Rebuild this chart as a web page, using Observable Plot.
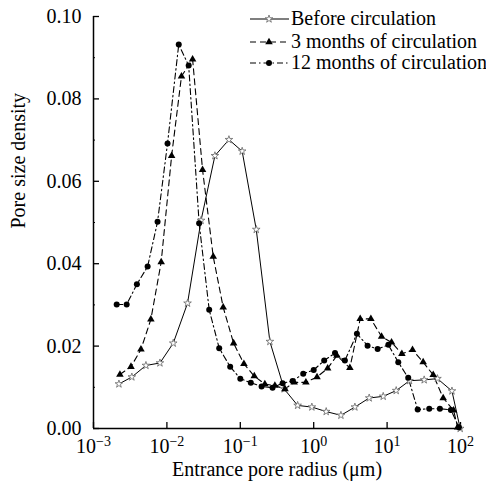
<!DOCTYPE html>
<html><head><meta charset="utf-8">
<script src="https://cdn.jsdelivr.net/npm/d3@7"></script>
<script src="https://cdn.jsdelivr.net/npm/@observablehq/plot@0.6"></script>
<style>body{margin:0;background:#fff} #chart svg{font-family:"Liberation Serif","Times New Roman",serif}</style>
</head><body><div id="chart"></div>
<script>
const seriesNames = ["Before circulation", "3 months of circulation", "12 months of circulation"];

// Before circulation: entrance pore radius (µm) and pore size density
const beforeR = [0.00222, 0.00333, 0.00518, 0.00804, 0.0122, 0.0191, 0.0292, 0.0451, 0.070, 0.106, 0.165, 0.253, 0.396, 0.604, 0.944, 1.48, 2.35, 3.64, 5.70, 8.85, 13.3, 20.2, 32.0, 48.5, 76.5, 99];
const beforeD = [0.0108, 0.0125, 0.0153, 0.0159, 0.0207, 0.0304, 0.0505, 0.0662, 0.0701, 0.0673, 0.0483, 0.0211, 0.0096, 0.0056, 0.0052, 0.0041, 0.0032, 0.0052, 0.0074, 0.0078, 0.0092, 0.0116, 0.0118, 0.0121, 0.0091, 0.0];

// 3 months of circulation
const m3R = [0.00229, 0.00324, 0.00443, 0.00605, 0.00836, 0.0116, 0.0158, 0.0224, 0.0306, 0.0428, 0.0585, 0.0811, 0.112, 0.155, 0.216, 0.296, 0.406, 0.542, 0.783, 1.11, 1.55, 2.07, 3.11, 4.30, 6.01, 8.41, 11.5, 15.9, 22.2, 31.0, 42.5, 58.1, 80.5, 91.4];
const m3D = [0.0131, 0.0150, 0.0192, 0.0265, 0.0404, 0.0662, 0.0855, 0.0896, 0.0628, 0.0417, 0.0294, 0.0207, 0.0157, 0.0127, 0.0108, 0.0104, 0.0096, 0.0112, 0.0112, 0.0125, 0.0146, 0.0177, 0.0147, 0.0266, 0.0266, 0.0223, 0.0209, 0.0181, 0.0191, 0.0161, 0.0130, 0.0074, 0.0044, 0.0003];

// 12 months of circulation
const m12R = [0.00207, 0.00283, 0.00390, 0.00546, 0.00746, 0.0102, 0.0145, 0.0198, 0.0275, 0.0377, 0.0516, 0.0728, 0.100, 0.139, 0.195, 0.275, 0.377, 0.516, 0.720, 1.0, 1.39, 1.95, 2.66, 3.88, 5.42, 7.43, 10.4, 14.2, 19.4, 26.1, 37.5, 52.4, 74.0, 95.1];
const m12D = [0.0301, 0.0301, 0.0350, 0.0393, 0.0502, 0.0692, 0.0932, 0.0881, 0.0498, 0.0288, 0.0195, 0.0150, 0.0121, 0.0111, 0.0102, 0.0099, 0.0110, 0.0115, 0.0133, 0.0142, 0.0165, 0.0183, 0.0165, 0.0230, 0.0201, 0.0193, 0.0203, 0.0161, 0.0123, 0.0046, 0.0048, 0.0048, 0.0045, 0.0003];

const xTicks = [1e-3, 1e-2, 1e-1, 1, 10, 100];
const xTickExp = ["−3", "−2", "−1", "0", "1", "2"];
const yTicks = [0, 0.02, 0.04, 0.06, 0.08, 0.10];
const yMinorTicks = [0.01, 0.03, 0.05, 0.07, 0.09];
const xLabel = "Entrance pore radius (μm)";
const yLabel = "Pore size density";

const toRows = (R, D) => R.map((r, i) => ({r, d: D[i]}));
const before = toRows(beforeR, beforeD);
const m3 = toRows(m3R, m3D);
const m12 = toRows(m12R, m12D);

const plot = Plot.plot({
  width: 486, height: 485,
  marginTop: 16, marginRight: 26, marginBottom: 57, marginLeft: 93,
  style: {fontFamily: "'Liberation Serif', 'Times New Roman', serif", fontSize: "20px", background: "white", color: "black"},
  x: {type: "log", domain: [1e-3, 1e2], label: null},
  y: {domain: [0, 0.10], label: null},
  marks: [
    Plot.axisX({ticks: xTicks, tickSize: 6, dy: -6, tickFormat: () => "", strokeWidth: 1.3, label: null}),
    Plot.axisX({ticks: xTicks, tickSize: 0, tickPadding: 10, tickFormat: (d) => "10^" + xTickExp[xTicks.indexOf(d)], fontSize: 20, label: null}),
    Plot.axisY({ticks: yTicks, tickSize: 6, dx: 6, tickFormat: () => "", strokeWidth: 1.3, label: null}),
    Plot.axisY({ticks: yMinorTicks, tickSize: 2, dx: 2, tickFormat: () => "", label: null}),
    Plot.axisY({ticks: yTicks, tickSize: 0, tickPadding: 12, tickFormat: d3.format(".2f"), fontSize: 20, label: null}),
    Plot.ruleY([0], {strokeWidth: 1.5}),
    Plot.ruleX([1e-3], {strokeWidth: 1.5}),
    Plot.line(before, {x: "r", y: "d", stroke: "black", strokeWidth: 1}),
    Plot.line(m3, {x: "r", y: "d", stroke: "black", strokeWidth: 1.1, strokeDasharray: "6,4"}),
    Plot.line(m12, {x: "r", y: "d", stroke: "black", strokeWidth: 1.1, strokeDasharray: "6,3,1.5,3"}),
    Plot.dot(before, {x: "r", y: "d", symbol: "star", r: 2.4, fill: "white", stroke: "#666", strokeWidth: 0.8}),
    Plot.dot(m3, {x: "r", y: "d", symbol: "triangle", r: 2.8, fill: "black", stroke: "none"}),
    Plot.dot(m12, {x: "r", y: "d", symbol: "circle", r: 3, fill: "black", stroke: "none"}),
    Plot.text([yLabel], {frameAnchor: "left", dx: -75, dy: 6, rotate: -90, fontSize: 20}),
    Plot.text([xLabel], {frameAnchor: "bottom", dy: 47, fontSize: 20})
  ]
});

// superscript exponents on the x tick labels
d3.select(plot).selectAll('g[aria-label="x-axis tick label"] text').each(function () {
  const parts = this.textContent.split("^");
  const s = d3.select(this);
  s.text(null);
  s.append("tspan").text(parts[0]);
  s.append("tspan").attr("dy", "-0.45em").attr("font-size", "14px").text(parts[1]);
});

// legend
const svg = d3.select(plot);
const leg = svg.append("g").attr("font-size", 20).attr("text-anchor", "start");
const legendItems = [
  {name: seriesNames[0], dash: null, sym: d3.symbolStar, size: Math.PI * 2.4 * 2.4, fill: "white", stroke: "#666"},
  {name: seriesNames[1], dash: "6,4", sym: d3.symbolTriangle, size: Math.PI * 2.8 * 2.8, fill: "black", stroke: "none"},
  {name: seriesNames[2], dash: "6,3,1.5,3", sym: d3.symbolCircle, size: Math.PI * 9, fill: "black", stroke: "none"}
];
const legY = [19, 42, 63];
legendItems.forEach((it, i) => {
  const y = legY[i];
  leg.append("line").attr("x1", 250).attr("x2", 289).attr("y1", y).attr("y2", y)
    .attr("stroke", "black").attr("stroke-width", 1.1).attr("stroke-dasharray", it.dash);
  leg.append("path").attr("d", d3.symbol(it.sym, it.size)()).attr("transform", `translate(269,${y})`)
    .attr("fill", it.fill).attr("stroke", it.stroke).attr("stroke-width", 0.8);
  leg.append("text").attr("x", 291).attr("y", y).attr("dy", "0.32em").text(it.name);
});

document.getElementById("chart").append(plot);
</script>
</body></html>
